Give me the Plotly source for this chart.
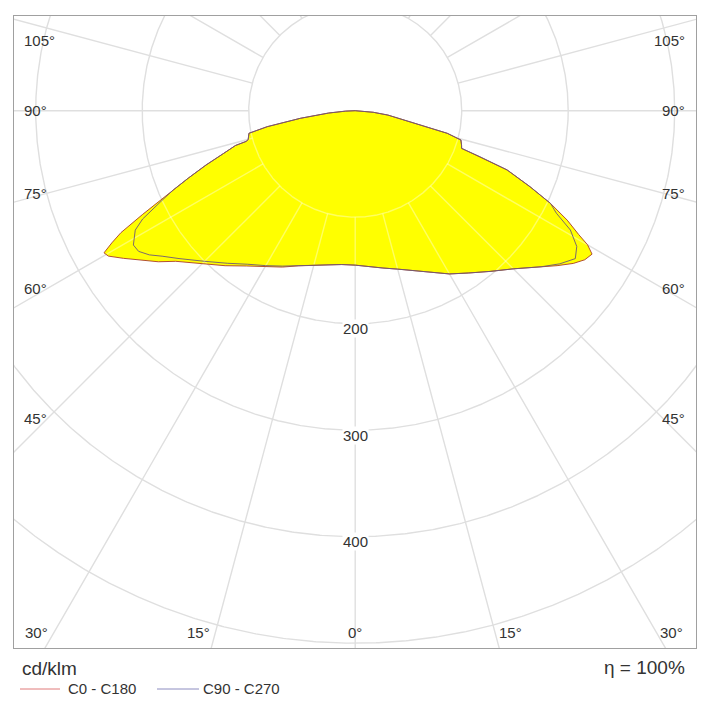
import numpy as np
import plotly.graph_objects as go

# ---------------- data (cd/klm vs. gamma in degrees from nadir) ----------------
gamma_c0 = [0, 5, 10, 15, 20, 25, 30, 35, 40, 45, 50, 52.5, 55, 57, 58.8, 60, 61,
            62.7, 64.6, 66.5, 68.7, 69.8, 70.5, 72, 74.5, 76.2, 77.7, 80, 82.4, 85,
            87.5, 90, 180]
int_c0 = [145, 147, 150, 154, 160, 167, 177, 186, 197, 210, 228, 239, 250, 257, 260,
          252, 240, 224, 203, 179, 153, 124, 106, 105, 103, 89, 63, 45, 31, 17, 7, 0, 0]

gamma_c180 = [0, 5, 10, 15, 20, 25, 30, 35, 40, 45, 50, 52.5, 55, 57.5, 59.5, 60.5,
              61.5, 62.5, 64, 66, 68, 70, 72, 73.8, 74.3, 75, 78, 79.7, 82.1, 85, 87.5,
              90, 180]
int_c180 = [145, 145, 147, 150, 155, 162, 169, 178, 190, 203, 220, 233, 245, 258, 269,
            271, 260, 248, 222, 193, 169, 149, 130, 117, 106, 104, 102, 84, 52, 25, 9,
            0, 0]

gamma_c90 = [0, 5, 10, 15, 20, 25, 30, 35, 40, 45, 50, 53.2, 56.1, 58.5, 61, 63, 64.6,
             66.5, 68.7, 69.8, 70.5, 72, 74.5, 76.2, 77.7, 80, 82.4, 85, 87.5, 90, 180]
int_c90 = [145, 147, 150, 154, 160, 167, 177, 186, 197, 210, 228, 240, 249, 244, 231,
           212, 203, 179, 153, 124, 106, 105, 103, 89, 63, 45, 31, 17, 7, 0, 0]

gamma_c270 = [0, 5, 10, 15, 20, 25, 30, 35, 40, 45, 50, 53, 55, 57, 58.8, 60, 61.5, 63,
              64, 65, 66.5, 68, 70, 72, 73.8, 74.3, 75, 78, 79.7, 82.1, 85, 87.5, 90, 180]
int_c270 = [145, 145, 147, 150, 155, 161, 168, 176, 187, 200, 216, 227, 236, 242.5,
            243.5, 240, 235, 224, 213, 201, 186, 169, 149, 130, 117, 106, 104, 102, 84,
            52, 25, 9, 0, 0]

series_names = ["C0 - C180", "C90 - C270"]
radial_ticks = [100, 200, 300, 400, 500]
radial_labels = [200, 300, 400]
grid_angles = list(range(-180, 181, 15))
side_angle_labels = [105, 90, 75, 60, 45]
bottom_angle_labels = [30, 15, 0, 15, 30]
bottom_sides = [-1, -1, 0, 1, 1]
unit_text = "cd/klm"
eta_text = "η = 100%"

# ---------------- geometry / style ----------------
OFF = 8                               # default body margin of the page
W, H = 708 - OFF, 710 - OFF
PL, PT, PR, PB = 14, 16, 696, 648     # plot frame in page pixels
ML, MT = PL - OFF, PT - OFF
MR, MB = OFF + W - PR, OFF + H - PB
PW, PH = PR - PL, PB - PT
S = 1.065                             # pixels per cd/klm
CXP, CYP = 355.2, 110.7               # pole position in page pixels
CX, CY = CXP - PL, CYP - PT
XR = [-CX / S, (PW - CX) / S]
YR = [-(PH - CY) / S, CY / S]

FONT = "Liberation Sans, Arial, sans-serif"
TXT = "#333333"
YELLOW = "#ffff00"
COL_C0 = "rgba(170,60,40,0.9)"
COL_C90 = "rgba(110,90,120,0.9)"
LEG_C0 = "#e07a7a"
LEG_C90 = "#8c8cc0"
GRID = "#dfdfdf"
GRID_OVER = "rgba(255,255,255,0.38)"


def xy(gam_right, int_right, gam_left, int_left):
    gr = np.radians(gam_right)
    gl = np.radians(gam_left)[::-1]
    il = np.array(int_left, float)[::-1]
    ir = np.array(int_right, float)
    x = np.concatenate([ir * np.sin(gr), -il * np.sin(gl)])
    y = np.concatenate([-ir * np.cos(gr), -il * np.cos(gl)])
    return np.append(x, x[0]), np.append(y, y[0])


def inside(px_, py_, vx, vy):
    res = np.zeros(px_.shape, bool)
    n = len(vx)
    for i in range(n - 1):
        x0, y0, x1, y1 = vx[i], vy[i], vx[i + 1], vy[i + 1]
        cond = (y0 > py_) != (y1 > py_)
        with np.errstate(divide="ignore", invalid="ignore"):
            xc = x0 + (py_ - y0) * (x1 - x0) / (y1 - y0)
        res ^= cond & (px_ < xc)
    return res


x1, y1 = xy(gamma_c0, int_c0, gamma_c180, int_c180)
x2, y2 = xy(gamma_c90, int_c90, gamma_c270, int_c270)

# grid geometry
curves = []
th = np.linspace(0, 2 * np.pi, 1441)
for r in radial_ticks:
    curves.append((r * np.cos(th), r * np.sin(th)))
for a in grid_angles:
    ar = np.radians(a)
    rr = np.linspace(radial_ticks[0], 900, 1601)
    curves.append((rr * np.sin(ar), -rr * np.cos(ar)))

gx, gy, ox, oy = [], [], [], []
for cx_, cy_ in curves:
    gx += list(cx_) + [None]
    gy += list(cy_) + [None]
    m = inside(cx_, cy_, x1, y1) | inside(cx_, cy_, x2, y2)
    ox += [v if k else None for v, k in zip(cx_, m)] + [None]
    oy += [v if k else None for v, k in zip(cy_, m)] + [None]

fig = go.Figure()
fig.add_trace(go.Scatter(x=gx, y=gy, mode="lines", line=dict(color=GRID, width=1.4),
                         showlegend=False, hoverinfo="skip"))
for xx, yy, nm in [(x1, y1, series_names[0]), (x2, y2, series_names[1])]:
    fig.add_trace(go.Scatter(x=xx, y=yy, mode="lines", fill="toself", fillcolor=YELLOW,
                             line=dict(width=0), name=nm, showlegend=False,
                             hoverinfo="skip"))
fig.add_trace(go.Scatter(x=ox, y=oy, mode="lines", line=dict(color=GRID_OVER, width=1.4),
                         showlegend=False, hoverinfo="skip", connectgaps=False))
for xx, yy, col, nm in [(x1, y1, COL_C0, series_names[0]), (x2, y2, COL_C90, series_names[1])]:
    fig.add_trace(go.Scatter(x=xx, y=yy, mode="lines", line=dict(color=col, width=1),
                             name=nm, showlegend=False, hoverinfo="skip"))

ann = []
# side angle labels
for a in side_angle_labels:
    X = (CX - 33) / S if a <= 90 else (CX - 39) / S
    yv = -X / np.tan(np.radians(a))
    yanc = "top" if a > 90 else "middle"
    ann.append(dict(x=-(CX - 8) / S, y=yv, text=f"{a}°", xanchor="left", yanchor=yanc))
    ann.append(dict(x=(PW - CX - 9) / S, y=yv, text=f"{a}°", xanchor="right", yanchor=yanc))
# bottom angle labels
ylab = -(PH - CY - 16) / S
for a, sd in zip(bottom_angle_labels, bottom_sides):
    xv = abs(ylab) * np.tan(np.radians(a))
    if sd < 0:
        ann.append(dict(x=-xv - 4 / S, y=ylab, text=f"{a}°", xanchor="right", yanchor="middle"))
    elif sd > 0:
        ann.append(dict(x=xv + 2 / S, y=ylab, text=f"{a}°", xanchor="left", yanchor="middle"))
    else:
        ann.append(dict(x=0, y=ylab, text=f"{a}°", xanchor="center", yanchor="middle"))
# radial labels
for r in radial_labels:
    ann.append(dict(x=0, y=-(r + 5 / S), text=str(r), xanchor="center", yanchor="middle",
                    bgcolor="white", borderpad=0))
for a in ann:
    a.update(xref="x", yref="y", showarrow=False, font=dict(family=FONT, size=15, color=TXT))


def px(xp, yp):
    return (xp - PL) / PW, (PB - yp) / PH


def paper_text(xp, yp, text, size, anchor):
    xx, yy = px(xp, yp)
    return dict(x=xx, y=yy, xref="paper", yref="paper", text=text, showarrow=False,
                xanchor=anchor, yanchor="middle", font=dict(family=FONT, size=size, color=TXT))


ann.append(paper_text(20, 668, unit_text, 19, "left"))
ann.append(paper_text(687, 667, eta_text, 19, "right"))
ann.append(paper_text(66, 689, series_names[0], 15, "left"))
ann.append(paper_text(201, 689, series_names[1], 15, "left"))

shapes = []
for (xa, xb), col in [((20, 60), LEG_C0), ((157, 199), LEG_C90)]:
    a0 = px(xa, 689)
    b0 = px(xb, 689)
    shapes.append(dict(type="line", xref="paper", yref="paper", x0=a0[0], y0=a0[1],
                       x1=b0[0], y1=b0[1], line=dict(color=col, width=1)))

ax = dict(showgrid=False, zeroline=False, showticklabels=False, ticks="",
          showline=True, mirror=True, linecolor="#a0a0a0", linewidth=1, fixedrange=True)
fig.update_layout(
    width=W, height=H, margin=dict(l=ML, r=MR, t=MT, b=MB),
    paper_bgcolor="white", plot_bgcolor="white",
    xaxis=dict(range=XR, **ax), yaxis=dict(range=YR, **ax),
    annotations=ann, shapes=shapes, showlegend=False,
)
fig.write_html("out.html")
